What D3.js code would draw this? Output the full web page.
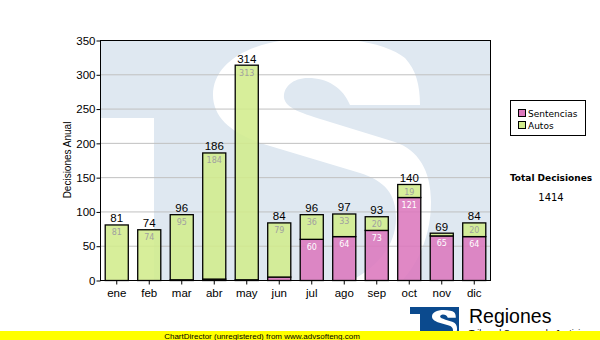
<!DOCTYPE html>
<html>
<head>
<meta charset="utf-8">
<script src="https://cdn.jsdelivr.net/npm/d3@7"></script>
<style>
  html, body { margin: 0; padding: 0; background: #ffffff; }
  svg { display: block; }
</style>
</head>
<body>
<div id="chart"></div>
<script>
// Monthly decisions, split into sentences (bottom) and orders (top)
const months = ["ene", "feb", "mar", "abr", "may", "jun", "jul", "ago", "sep", "oct", "nov", "dic"];
const sentencias = [0, 0, 1, 2, 1, 5, 60, 64, 73, 121, 65, 64];
const autos = [81, 74, 95, 184, 313, 79, 36, 33, 20, 19, 4, 20];
const seriesNames = ["Sentencias", "Autos"];
const yTicks = [0, 50, 100, 150, 200, 250, 300, 350];

const W = 600, H = 340;
const plot = { left: 100, right: 490, top: 40, bottom: 280 };
const colors = { Sentencias: "#dc78bd", Autos: "#d2ec8c" };

// Outline of the "S" emblem used by the brand mark (drawn in its own pixel frame)
const sEmblem =
  "M420,105 L350,105 C343,88 328,78 308,78 C292,78 283,88 284,98 " +
  "C286,108 300,113 330,122 L395,142 C418,150 431,170 431,202 " +
  "C431,250 405,288 370,305 L300,330 L320,292 " +
  "C362,282 396,255 396,218 C396,194 385,181 360,173 L270,146 " +
  "C236,136 213,120 213,95 C213,60 255,38 315,38 " +
  "C360,38 390,46 405,58 C416,70 420,85 420,105 Z";

const svg = d3.select("#chart").append("svg")
  .attr("width", W).attr("height", H);

const x = d3.scaleBand().domain(months)
  .range([plot.left, plot.right]).paddingInner(0.29).paddingOuter(0.145);
const y = d3.scaleLinear().domain([0, 350]).range([plot.bottom, plot.top]);

// Plot background with the large watermark emblem
svg.append("clipPath").attr("id", "plotClip").append("rect")
  .attr("x", plot.left).attr("y", plot.top)
  .attr("width", plot.right - plot.left).attr("height", plot.bottom - plot.top);

const wm = svg.append("g").attr("clip-path", "url(#plotClip)");
wm.append("rect")
  .attr("x", plot.left).attr("y", plot.top)
  .attr("width", plot.right - plot.left).attr("height", plot.bottom - plot.top)
  .attr("fill", "#dfe8f1");
wm.append("rect")
  .attr("x", plot.left).attr("y", 118)
  .attr("width", 54).attr("height", plot.bottom - 118)
  .attr("fill", "#ffffff");
wm.append("path").attr("d", sEmblem).attr("fill", "#ffffff");

// Grid lines
svg.append("g").selectAll("line")
  .data(yTicks.filter(d => d > 0 && d < 350))
  .join("line")
  .attr("x1", plot.left).attr("x2", plot.right)
  .attr("y1", d => y(d) + 0.5).attr("y2", d => y(d) + 0.5)
  .attr("stroke", "#c0c0c0").attr("stroke-width", 1);

// Stacked bars
const rows = months.map((m, i) => ({ month: m, Sentencias: sentencias[i], Autos: autos[i] }));
const stack = d3.stack().keys(seriesNames)(rows);

const layers = svg.append("g").selectAll("g")
  .data(stack)
  .join("g")
  .attr("fill", d => colors[d.key]);

layers.selectAll("rect")
  .data(d => d.filter(s => s[1] - s[0] > 0))
  .join("rect")
  .attr("x", d => x(d.data.month) + 0.5)
  .attr("y", d => y(d[1]) + 0.5)
  .attr("width", x.bandwidth())
  .attr("height", d => y(d[0]) - y(d[1]))
  .attr("fill-opacity", 0.88)
  .attr("stroke", "#000000")
  .attr("stroke-width", 1.3);

// Segment value labels (only where the segment is tall enough)
stack.forEach(layer => {
  svg.append("g").selectAll("text")
    .data(layer.filter(s => s[1] - s[0] >= 15))
    .join("text")
    .attr("x", d => x(d.data.month) + x.bandwidth() / 2 + 0.5)
    .attr("y", d => y(d[1]) + 11)
    .attr("text-anchor", "middle")
    .attr("font-family", "'DejaVu Sans', sans-serif")
    .attr("font-size", 8)
    .attr("fill", layer.key === "Sentencias" ? "#ffffff" : "#a0a0a0")
    .text(d => d[1] - d[0]);
});

// Totals above bars
svg.append("g").selectAll("text")
  .data(rows)
  .join("text")
  .attr("x", d => x(d.month) + x.bandwidth() / 2 + 0.5)
  .attr("y", d => y(d.Sentencias + d.Autos) - 2)
  .attr("text-anchor", "middle")
  .attr("font-family", "'Liberation Sans', Arial, sans-serif")
  .attr("font-size", 11.5)
  .attr("fill", "#000000")
  .text(d => d.Sentencias + d.Autos);

// Plot frame
svg.append("rect")
  .attr("x", plot.left + 0.5).attr("y", plot.top + 0.5)
  .attr("width", plot.right - plot.left).attr("height", plot.bottom - plot.top)
  .attr("fill", "none").attr("stroke", "#000000").attr("stroke-width", 1);

// Axes
const yAxis = svg.append("g")
  .attr("transform", `translate(${plot.left + 0.5},0.5)`)
  .call(d3.axisLeft(y).tickValues(yTicks).tickSize(4).tickPadding(1));
const xAxis = svg.append("g")
  .attr("transform", `translate(0.5,${plot.bottom + 0.5})`)
  .call(d3.axisBottom(x).tickSize(4).tickPadding(4));
[yAxis, xAxis].forEach(a => {
  a.select(".domain").remove();
  a.selectAll("line").attr("stroke", "#000000");
  a.selectAll("text")
    .attr("font-family", "'Liberation Sans', Arial, sans-serif")
    .attr("font-size", 11.5)
    .attr("fill", "#000000");
});

// Axis title
svg.append("text")
  .attr("transform", `translate(71,${(plot.top + plot.bottom) / 2}) rotate(-90)`)
  .attr("text-anchor", "middle")
  .attr("font-family", "'Liberation Sans', Arial, sans-serif")
  .attr("font-size", 10)
  .attr("fill", "#000000")
  .text("Decisiones Anual");

// Legend
const legend = svg.append("g");
legend.append("rect")
  .attr("x", 510.5).attr("y", 100.5).attr("width", 75).attr("height", 35)
  .attr("fill", "#ffffff").attr("stroke", "#000000");
seriesNames.forEach((name, i) => {
  legend.append("rect")
    .attr("x", 518.5).attr("y", 109.5 + i * 12).attr("width", 7).attr("height", 7)
    .attr("fill", colors[name]).attr("stroke", "#000000");
  legend.append("text")
    .attr("x", 528).attr("y", 117 + i * 12)
    .attr("font-family", "'DejaVu Sans', sans-serif")
    .attr("font-size", 9)
    .attr("fill", "#000000")
    .text(name);
});

// Overall total
const grandTotal = d3.sum(sentencias) + d3.sum(autos);
svg.append("text")
  .attr("x", 551).attr("y", 181)
  .attr("text-anchor", "middle")
  .attr("font-family", "'DejaVu Sans', sans-serif")
  .attr("font-weight", "bold")
  .attr("font-size", 9)
  .attr("fill", "#000000")
  .text("Total Decisiones");
svg.append("text")
  .attr("x", 551).attr("y", 200.5)
  .attr("text-anchor", "middle")
  .attr("font-family", "'DejaVu Sans', sans-serif")
  .attr("font-size", 10)
  .attr("fill", "#000000")
  .text(grandTotal);

// Footer brand mark
const logo = svg.append("g");
svg.append("clipPath").attr("id", "logoClip").append("rect")
  .attr("x", 410).attr("y", 307).attr("width", 49).attr("height", 30);
const lg = logo.append("g").attr("clip-path", "url(#logoClip)");
lg.append("rect").attr("x", 410).attr("y", 307).attr("width", 49).attr("height", 30).attr("fill", "#0b4a8e");
lg.append("rect").attr("x", 410).attr("y", 314).attr("width", 10).attr("height", 25).attr("fill", "#ffffff");
lg.append("path").attr("d", sEmblem)
  .attr("transform", "translate(407.5,305.6) scale(0.115)")
  .attr("fill", "#ffffff");
logo.append("text")
  .attr("x", 469).attr("y", 323)
  .attr("font-family", "'Liberation Sans', Arial, sans-serif")
  .attr("font-size", 19.5)
  .attr("fill", "#000000")
  .text("Regiones");
logo.append("text")
  .attr("x", 469).attr("y", 336)
  .attr("font-family", "'Liberation Sans', Arial, sans-serif")
  .attr("font-size", 9)
  .attr("fill", "#000000")
  .text("Tribunal Supremo de Justicia");

// Footer banner
svg.append("rect")
  .attr("x", 0).attr("y", 331).attr("width", W).attr("height", 9)
  .attr("fill", "#ffff00");
svg.append("text")
  .attr("x", 262).attr("y", 338.5)
  .attr("text-anchor", "middle")
  .attr("font-family", "'Liberation Sans', Arial, sans-serif")
  .attr("font-size", 8)
  .attr("fill", "#000000")
  .text("ChartDirector (unregistered) from www.advsofteng.com");
</script>
</body>
</html>
